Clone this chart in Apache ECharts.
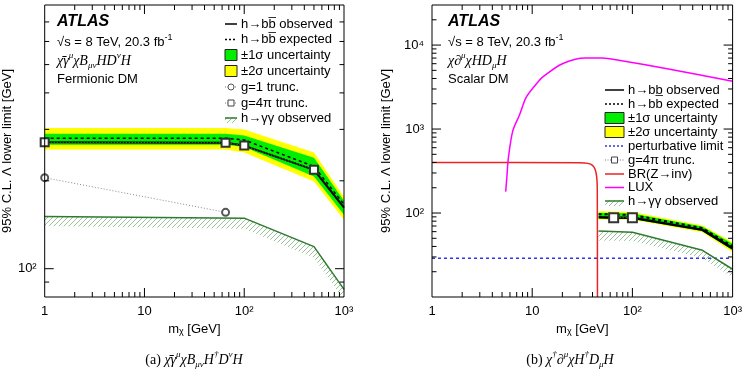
<!DOCTYPE html>
<html>
<head>
<meta charset="utf-8">
<script src="https://cdn.jsdelivr.net/npm/echarts@6/dist/echarts.min.js"></script>
<style>
html, body { margin: 0; padding: 0; background: #fff; }
#main { width: 745px; height: 372px; }
</style>
</head>
<body>
<div id="main"></div>
<script>
// (a) fermionic DM
const massA = [1, 65, 100, 500, 1000]
const bbObsA = [271, 270, 264, 218, 162]
const bbExpA = [280, 280, 276, 224, 166]
const sig1LoA = [266, 266, 261, 207, 153]
const sig1HiA = [290, 290, 286, 240, 171]
const sig2LoA = [256, 256, 250, 199, 147]
const sig2HiA = [303, 303, 300, 250, 176]
const g1MassA = [1, 65]
const g1A = [205, 156]
const g4piMassA = [1, 65, 100, 500]
const g4piA = [271, 270, 264, 218]
const ggMassA = [1, 100, 500, 1000]
const ggObsA = [151, 149, 119, 85]
const ggLowA = [140, 137, 109, 78]

// (b) scalar DM
const massB = [46, 65, 100, 500, 1000]
const bbObsB = [89, 88, 88, 63, 38]
const bbExpB = [97, 96, 95, 66, 40]
const sig1LoB = [86, 85, 85, 61, 36]
const sig1HiB = [101, 100, 99, 69, 43]
const sig2LoB = [84, 83, 83, 59, 34]
const sig2HiB = [105, 104, 103, 71, 45]
const g4piMassB = [65, 100]
const g4piB = [88, 88]
const ggMassB = [46, 100, 500, 1000]
const ggObsB = [61, 59, 36, 21.4]
const ggLowB = [47, 46.5, 29, 17.2]
const pertMass = [1, 1000]
const pertB = [29, 29]
const zinvMass = [1, 30, 36, 40, 42.5, 44, 44.6, 44.8]
const zinvB = [400, 398, 390, 370, 330, 270, 200, 10]
const luxMass = [5.44, 5.6, 5.78, 6.4, 7.5, 8.7, 10.9, 12.7, 20, 34, 50, 73, 229, 1000]
const luxB = [180, 280, 450, 950, 1490, 2380, 3400, 4150, 6000, 7000, 7000, 6600, 5200, 3700]

// axes
const xRange = [1, 1000]
const yRangeA = [80, 800]
const yRangeB = [10, 30000]
const xMajor = [10, 100]
const xMinor = [2, 3, 4, 5, 6, 7, 8, 9, 20, 30, 40, 50, 60, 70, 80, 90, 200, 300, 400, 500, 600, 700, 800, 900]
const yMajorA = [100]
const yMinorA = [90, 200, 300, 400, 500, 600, 700]
const yMajorB = [100, 1000, 10000]
const yMinorB = [20, 30, 40, 50, 60, 70, 80, 90, 200, 300, 400, 500, 600, 700, 800, 900,
  2000, 3000, 4000, 5000, 6000, 7000, 8000, 9000, 20000]
const xTickLabels = ['1', '10', '10²', '10³']
const yTickLabelsA = { 2: '10²' }
const yTickLabelsB = { 2: '10²', 3: '10³', 4: '10⁴' }

const SANS = '"Liberation Sans", Arial, Helvetica, sans-serif'
const SERIF = '"Liberation Serif", "Times New Roman", serif'
const GREEN = '#00ee00'
const YELLOW = '#ffff00'
const GGCOL = '#2e7b2e'

// hatch texture for the diphoton exclusion side
const hatch = document.createElement('canvas')
hatch.width = 5
hatch.height = 5
const hc = hatch.getContext('2d')
hc.strokeStyle = '#9cc29c'
hc.lineWidth = 1
hc.beginPath()
hc.moveTo(0, 5); hc.lineTo(5, 0)
hc.moveTo(-1, 1); hc.lineTo(1, -1)
hc.moveTo(4, 6); hc.lineTo(6, 4)
hc.stroke()
const hatchFill = { image: hatch, repeat: 'repeat' }

function decadeLabel(labels) {
  return function (v) {
    const e = Math.log10(v)
    const r = Math.round(e)
    if (Math.abs(e - r) > 1e-6) return ''
    return labels[r] || ''
  }
}

function bandSeries(idx, xs, lo, hi, fill, z) {
  return {
    type: 'custom', xAxisIndex: idx, yAxisIndex: idx, clip: true, silent: true, z: z,
    data: [[xs[0], lo[0]]],
    renderItem: function (params, api) {
      const pts = []
      xs.forEach((x, i) => pts.push(api.coord([x, hi[i]])))
      for (let i = xs.length - 1; i >= 0; i--) pts.push(api.coord([xs[i], lo[i]]))
      return { type: 'polygon', shape: { points: pts }, style: { fill: fill, stroke: null } }
    }
  }
}

function lineSeries(idx, xs, ys, color, width, type, z, extra) {
  return Object.assign({
    type: 'line', xAxisIndex: idx, yAxisIndex: idx, symbol: 'none', silent: true, z: z,
    data: xs.map((x, i) => [x, ys[i]]),
    lineStyle: { color: color, width: width, type: type }
  }, extra || {})
}

function tickSeries(idx, yr, yMajor, yMinor) {
  return {
    type: 'custom', xAxisIndex: idx, yAxisIndex: idx, silent: true, z: 20, clip: false,
    data: [[xRange[0], yr[0]]],
    renderItem: function (params, api) {
      const children = []
      const add = (a, b) => children.push({
        type: 'line', shape: { x1: a[0], y1: a[1], x2: b[0], y2: b[1] },
        style: { stroke: '#000', lineWidth: 1 }
      })
      const xt = (vals, len) => vals.forEach(v => {
        const b = api.coord([v, yr[0]])
        const t = api.coord([v, yr[1]])
        add(b, [b[0], b[1] - len])
        add(t, [t[0], t[1] + len])
      })
      const yt = (vals, len) => vals.forEach(v => {
        const l = api.coord([xRange[0], v])
        const r = api.coord([xRange[1], v])
        add(l, [l[0] + len, l[1]])
        add(r, [r[0] - len, r[1]])
      })
      xt(xMajor, 9)
      xt(xMinor, 5)
      yt(yMajor, 9)
      yt(yMinor, 4.5)
      return { type: 'group', children: children }
    }
  }
}

function makeAxisX(idx) {
  return {
    type: 'log', gridIndex: idx, logBase: 10, min: xRange[0], max: xRange[1],
    axisLine: { show: false }, axisTick: { show: false }, splitLine: { show: false },
    axisLabel: { formatter: decadeLabel(xTickLabels), color: '#000', fontSize: 13, fontFamily: SANS, margin: 8 },
    name: 'm{sub|χ} [GeV]', nameLocation: 'middle', nameGap: 26,
    nameTextStyle: {
      color: '#000', fontSize: 13, fontFamily: SANS,
      rich: { sub: { fontSize: 9, fontFamily: SANS, verticalAlign: 'bottom', lineHeight: 10 } }
    }
  }
}

function makeAxisY(idx, yr, labels, gap) {
  return {
    type: 'log', gridIndex: idx, logBase: 10, min: yr[0], max: yr[1],
    axisLine: { show: false }, axisTick: { show: false }, splitLine: { show: false },
    axisLabel: { formatter: decadeLabel(labels), color: '#000', fontSize: 13, fontFamily: SANS, margin: 8 },
    name: '95% C.L. Λ lower limit [GeV]', nameLocation: 'middle', nameGap: gap,
    nameTextStyle: { color: '#000', fontSize: 13, fontFamily: SANS }
  }
}

// rich styles for formulas
const mathRich = {
  i: { fontFamily: SERIF, fontStyle: 'italic', fontSize: 14, lineHeight: 19, fill: '#000' },
  r: { fontFamily: SERIF, fontSize: 14, lineHeight: 19, fill: '#000' },
  sup: { fontFamily: SERIF, fontStyle: 'italic', fontSize: 9, lineHeight: 10, verticalAlign: 'top', fill: '#000' },
  sub: { fontFamily: SERIF, fontStyle: 'italic', fontSize: 9, lineHeight: 10, verticalAlign: 'bottom', fill: '#000' }
}
const sansRich = {
  sup: { fontFamily: SANS, fontSize: 9, lineHeight: 9, verticalAlign: 'top', fill: '#000' },
  n: { fontFamily: SANS, fontSize: 13, lineHeight: 17, fill: '#000' }
}

function txt(x, y, text, opts) {
  return {
    type: 'text', x: x, y: y, silent: true, z: 30,
    style: Object.assign({
      text: text, fill: '#000', font: '13px ' + SANS,
      textAlign: 'left', textVerticalAlign: 'middle'
    }, opts || {})
  }
}

function legLine(x1, x2, y, color, width, dash) {
  return {
    type: 'line', silent: true, z: 30,
    shape: { x1: x1, y1: y, x2: x2, y2: y },
    style: { stroke: color, lineWidth: width, lineDash: dash || null }
  }
}

function legBox(x1, x2, y, fill) {
  return {
    type: 'rect', silent: true, z: 30,
    shape: { x: x1, y: y - 5.5, width: x2 - x1, height: 11 },
    style: { fill: fill, stroke: '#222', lineWidth: 1 }
  }
}

function legHatch(x1, x2, y) {
  return [
    { type: 'rect', silent: true, z: 30, shape: { x: x1, y: y - 1, width: x2 - x1, height: 6 }, style: { fill: hatchFill } },
    legLine(x1, x2, y, GGCOL, 1.5)
  ]
}

function header(x, title) {
  return [
    txt(x, 22, 'ATLAS', { font: 'italic bold 16px ' + SANS }),
    txt(x, 42, '{n|√s = 8 TeV, 20.3 fb}{sup|-1}', { rich: sansRich }),
    txt(x, 61, title, { rich: mathRich }),
    txt(x, 79, x < 300 ? 'Fermionic DM' : 'Scalar DM')
  ]
}

// legend A
const rowA = [24, 39.5, 55, 71, 87, 103, 118]
const lx1 = 225, lx2 = 237, ltx = 241
const legendA = [
  legLine(lx1, lx2, rowA[0], '#000', 1.5),
  txt(ltx, rowA[0], 'h→bb\u0305 observed'),
  legLine(lx1, lx2, rowA[1], '#000', 1.5, [2, 2]),
  txt(ltx, rowA[1], 'h→bb\u0305 expected'),
  legBox(lx1, lx2, rowA[2], GREEN),
  txt(ltx, rowA[2], '±1σ uncertainty'),
  legBox(lx1, lx2, rowA[3], YELLOW),
  txt(ltx, rowA[3], '±2σ uncertainty'),
  legLine(lx1, lx2, rowA[4], '#777', 1, [1, 1.5]),
  { type: 'circle', silent: true, z: 31, shape: { cx: 231, cy: rowA[4], r: 3 }, style: { fill: '#fff', stroke: '#555' } },
  txt(ltx, rowA[4], 'g=1 trunc.'),
  legLine(lx1, lx2, rowA[5], '#777', 1, [1, 1.5]),
  { type: 'rect', silent: true, z: 31, shape: { x: 228, y: rowA[5] - 3, width: 6, height: 6 }, style: { fill: '#fff', stroke: '#444' } },
  txt(ltx, rowA[5], 'g=4π trunc.'),
  ...legHatch(lx1, lx2, rowA[6]),
  txt(ltx, rowA[6], 'h→γγ observed')
]

// legend B
const rowB = [90, 104, 118, 132, 146, 160, 174, 187.5, 201]
const rx1 = 605, rx2 = 624, rtx = 628
const legendB = [
  legLine(rx1, rx2, rowB[0], '#000', 1.5),
  txt(rtx, rowB[0], 'h→bb\u0332 observed'),
  legLine(rx1, rx2, rowB[1], '#000', 1.5, [2, 2]),
  txt(rtx, rowB[1], 'h→bb expected'),
  legBox(rx1, rx2, rowB[2], GREEN),
  txt(rtx, rowB[2], '±1σ uncertainty'),
  legBox(rx1, rx2, rowB[3], YELLOW),
  txt(rtx, rowB[3], '±2σ uncertainty'),
  legLine(rx1, rx2, rowB[4], '#3333ee', 1.5, [2, 2]),
  txt(rtx, rowB[4], 'perturbative limit'),
  legLine(rx1, rx2, rowB[5], '#777', 1, [1, 1.5]),
  { type: 'rect', silent: true, z: 31, shape: { x: 611.5, y: rowB[5] - 3, width: 6, height: 6 }, style: { fill: '#fff', stroke: '#444' } },
  txt(rtx, rowB[5], 'g=4π trunc.'),
  legLine(rx1, rx2, rowB[6], '#ee2222', 1.5),
  txt(rtx, rowB[6], 'BR(Z→inv)'),
  legLine(rx1, rx2, rowB[7], '#ff00ff', 1.5),
  txt(rtx, rowB[7], 'LUX'),
  ...legHatch(rx1, rx2, rowB[8]),
  txt(rtx, rowB[8], 'h→γγ observed')
]

const titleA = '{i|χ\u0304γ}{sup|μ}{i|χB}{sub|μν}{i|HD}{sup|ν}{i|H}'
const titleB = '{i|χ∂}{sup|μ}{i|χHD}{sub|μ}{i|H}'
const captionA = '{r|(a) }{i|χ\u0304γ}{sup|μ}{i|χB}{sub|μν}{i|H}{sup|†}{i|D}{sup|ν}{i|H}'
const captionB = '{r|(b) }{i|χ}{sup|†}{i|∂}{sup|μ}{i|χH}{sup|†}{i|D}{sub|μ}{i|H}'

const chart = echarts.init(document.getElementById('main'), null, { renderer: 'canvas' })

chart.setOption({
  animation: false,
  backgroundColor: '#fff',
  grid: [
    { left: 42, top: 5, width: 302, height: 292, show: true, borderColor: '#000', borderWidth: 1, backgroundColor: 'transparent', z: 15 },
    { left: 432, top: 5, width: 302, height: 292, show: true, borderColor: '#000', borderWidth: 1, backgroundColor: 'transparent', z: 15 }
  ],
  xAxis: [makeAxisX(0), makeAxisX(1)],
  yAxis: [makeAxisY(0, yRangeA, yTickLabelsA, 28), makeAxisY(1, yRangeB, yTickLabelsB, 39)],
  series: [
    // panel (a)
    bandSeries(0, ggMassA, ggLowA, ggObsA, hatchFill, 1),
    bandSeries(0, massA, sig2LoA, sig2HiA, YELLOW, 2),
    bandSeries(0, massA, sig1LoA, sig1HiA, GREEN, 3),
    lineSeries(0, massA, bbExpA, '#000', 1.5, [3, 3], 5),
    lineSeries(0, massA, bbObsA, '#000', 2, 'solid', 6),
    lineSeries(0, ggMassA, ggObsA, GGCOL, 1.5, 'solid', 6),
    lineSeries(0, g1MassA, g1A, '#888', 1, [1, 2], 7, {
      symbol: 'emptyCircle', symbolSize: 7, itemStyle: { color: '#555', borderWidth: 1 }, clip: false
    }),
    lineSeries(0, g4piMassA, g4piA, '#888', 1, [1, 2], 8, {
      symbol: 'emptyRect', symbolSize: 8, itemStyle: { color: '#333', borderWidth: 1 }, clip: false
    }),
    tickSeries(0, yRangeA, yMajorA, yMinorA),
    // panel (b)
    bandSeries(1, ggMassB, ggLowB, ggObsB, hatchFill, 1),
    bandSeries(1, massB, sig2LoB, sig2HiB, YELLOW, 2),
    bandSeries(1, massB, sig1LoB, sig1HiB, GREEN, 3),
    lineSeries(1, pertMass, pertB, '#3333ee', 1.5, [3, 3], 4),
    lineSeries(1, zinvMass, zinvB, '#ee2222', 1.5, 'solid', 4, { smooth: 0.3 }),
    lineSeries(1, luxMass, luxB, '#ff00ff', 1.5, 'solid', 4, { smooth: 0.3 }),
    lineSeries(1, massB, bbExpB, '#000', 2, [3, 3], 5),
    lineSeries(1, massB, bbObsB, '#000', 2.5, 'solid', 6),
    lineSeries(1, ggMassB, ggObsB, GGCOL, 1.5, 'solid', 6),
    lineSeries(1, g4piMassB, g4piB, '#888', 1, [1, 2], 8, {
      symbol: 'emptyRect', symbolSize: 9, itemStyle: { color: '#333', borderWidth: 1 }
    }),
    tickSeries(1, yRangeB, yMajorB, yMinorB)
  ],
  graphic: [
    ...header(57, titleA),
    ...header(448, titleB),
    ...legendA,
    ...legendB,
    txt(194, 360, captionA, { rich: mathRich, textAlign: 'center' }),
    txt(570, 360, captionB, { rich: mathRich, textAlign: 'center' })
  ]
})
</script>
</body>
</html>
